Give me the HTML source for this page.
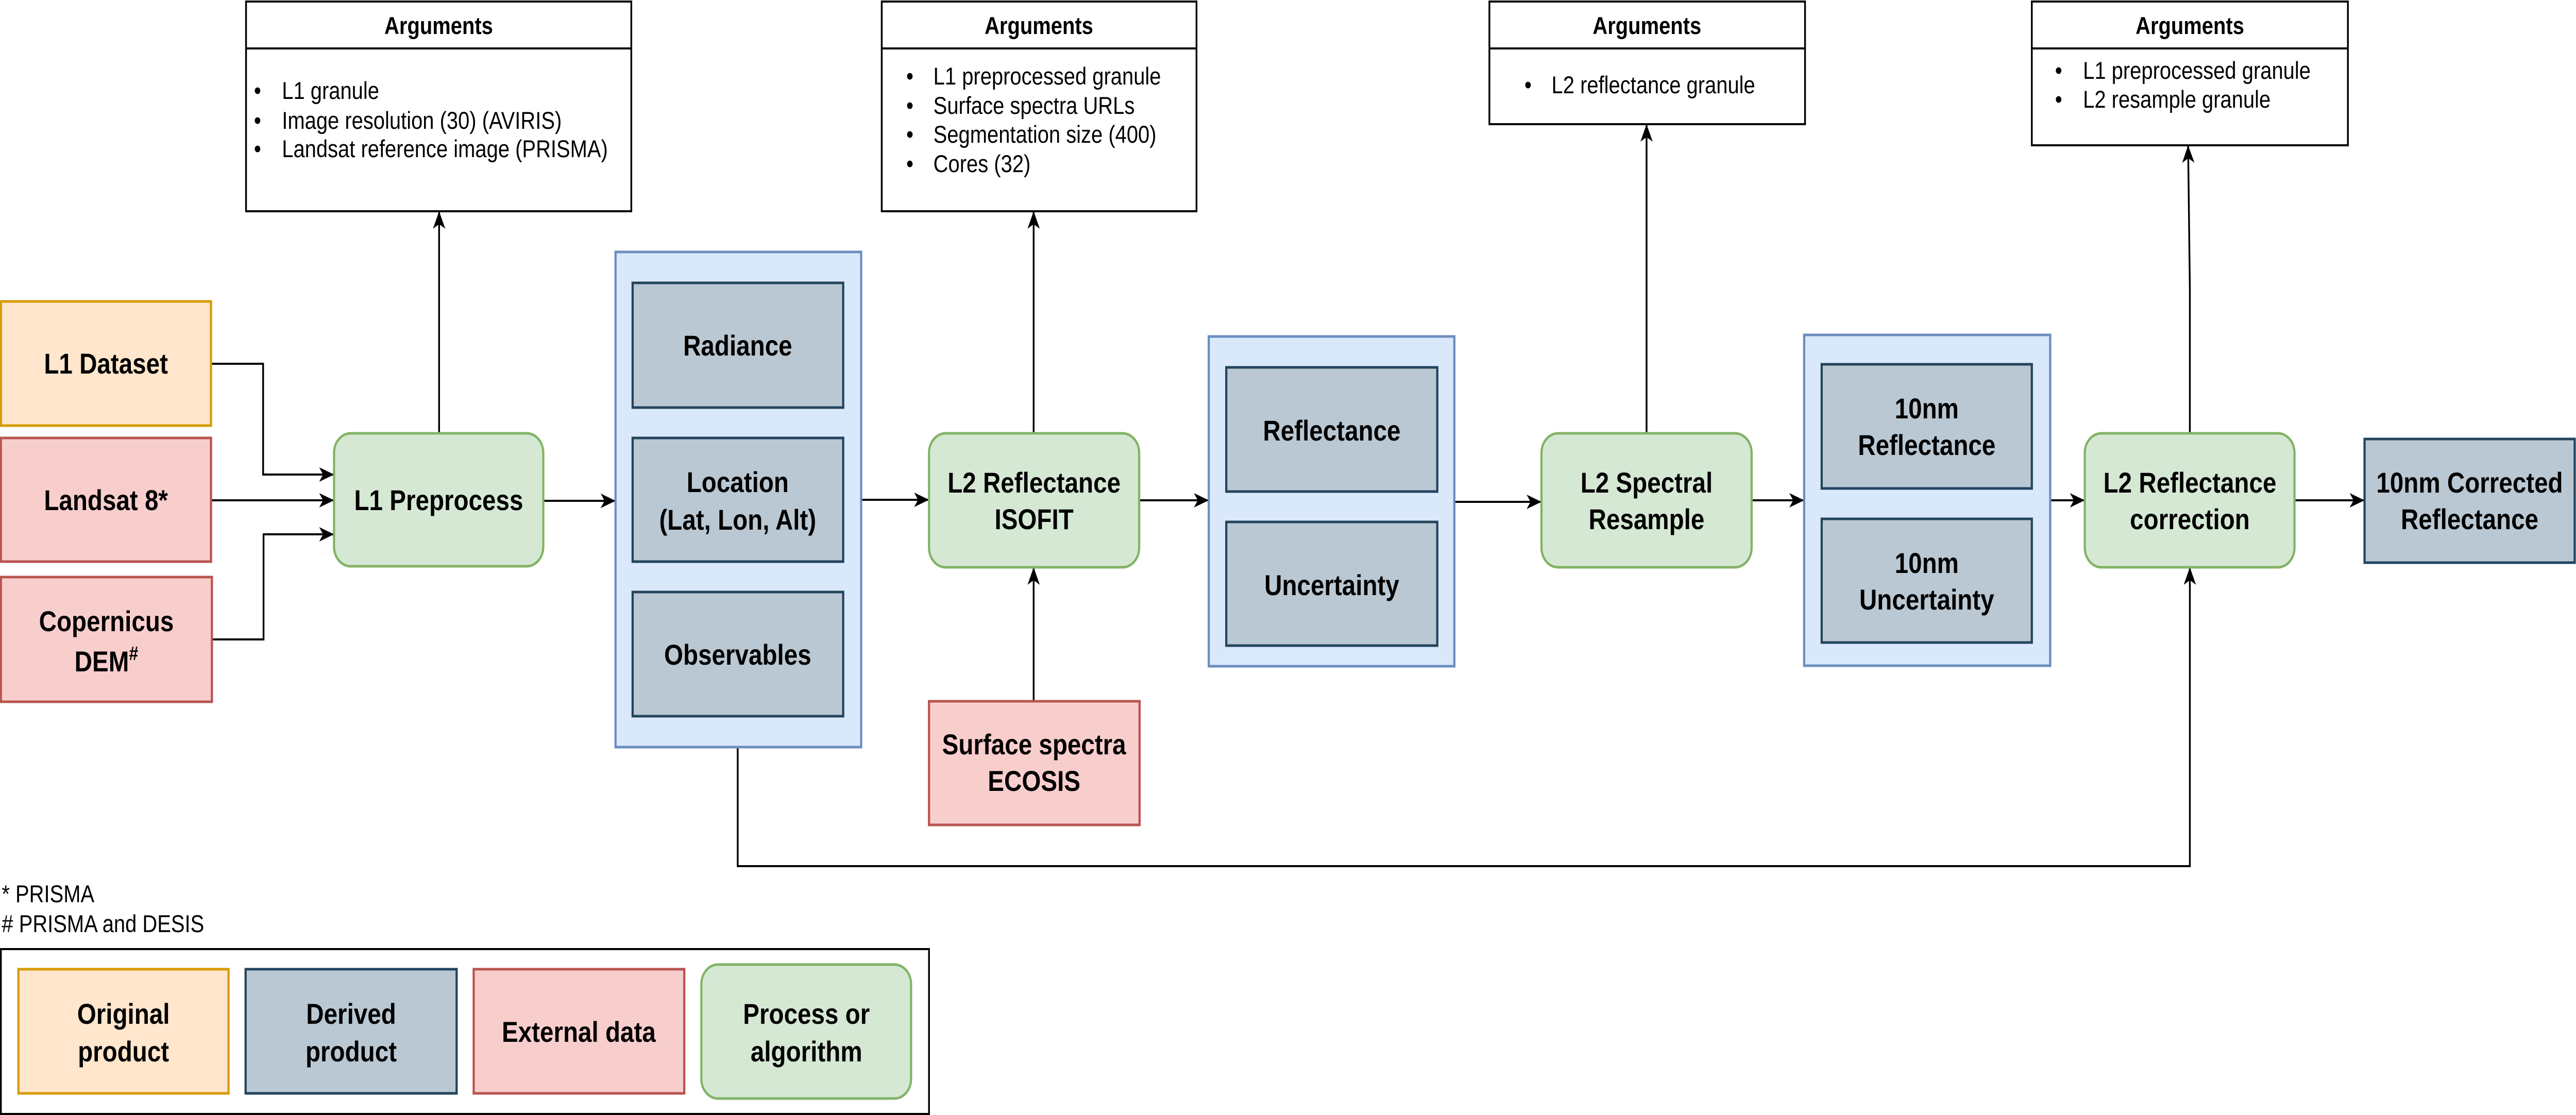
<!DOCTYPE html>
<html><head><meta charset="utf-8"><style>
html,body{margin:0;padding:0;background:#fff;overflow:hidden;width:100%;height:100%}
svg{display:block;width:100vw;height:100vh}
text{font-family:"Liberation Sans",Arial,sans-serif}
.b{font-weight:bold;font-size:56px}
.h{font-weight:bold;font-size:47px}
.n{font-size:47px}
</style></head><body>
<svg viewBox="0 0 5884 2164" preserveAspectRatio="none" xmlns="http://www.w3.org/2000/svg">
<defs>
<marker id="a" markerWidth="34" markerHeight="28" refX="32" refY="14" orient="auto" markerUnits="userSpaceOnUse">
<path d="M0,0 L34,14 L0,28 L9,14 Z" fill="#000"/>
</marker>
</defs>
<g fill="none" stroke="#000" stroke-width="4">
<rect x="562" y="3" width="880" height="407" fill="#fff"/><line x1="562" y1="94" x2="1442" y2="94"/>
<rect x="2014" y="3" width="719" height="407" fill="#fff"/><line x1="2014" y1="94" x2="2733" y2="94"/>
<rect x="3402" y="3" width="721" height="238" fill="#fff"/><line x1="3402" y1="94" x2="4123" y2="94"/>
<rect x="4641" y="3" width="722" height="279" fill="#fff"/><line x1="4641" y1="94" x2="5363" y2="94"/>
<path d="M482,706 H601 V921 H761" marker-end="url(#a)"/>
<path d="M482,971 H761" marker-end="url(#a)"/>
<path d="M484,1241 H602 V1037 H761" marker-end="url(#a)"/>
<path d="M1003,841 V412" marker-end="url(#a)"/>
<path d="M1241,972 H1404" marker-end="url(#a)"/>
<path d="M1967,970 H2120" marker-end="url(#a)"/>
<path d="M2361,841 V412" marker-end="url(#a)"/>
<path d="M2361,1361 V1103" marker-end="url(#a)"/>
<path d="M2602,971 H2759" marker-end="url(#a)"/>
<path d="M3322,974 H3519" marker-end="url(#a)"/>
<path d="M3761,841 V243" marker-end="url(#a)"/>
<path d="M4001,971 H4119" marker-end="url(#a)"/>
<path d="M4683,971 H4760" marker-end="url(#a)"/>
<path d="M5002,841 V560 L4998,284" marker-end="url(#a)"/>
<path d="M5241,971 H5399" marker-end="url(#a)"/>
<path d="M1685,1450 V1681 H5002 V1103" marker-end="url(#a)"/>
</g>
<g text-anchor="middle"><text class="h" x="1002" y="66">Arguments</text><text class="h" x="2373" y="66">Arguments</text><text class="h" x="3762" y="66">Arguments</text><text class="h" x="5002" y="66">Arguments</text></g>
<g>
<text class="n" x="580" y="192">•</text><text class="n" x="644" y="192">L1 granule</text>
<text class="n" x="580" y="250">•</text><text class="n" x="644" y="250">Image resolution (30) (AVIRIS)</text>
<text class="n" x="580" y="305">•</text><text class="n" x="644" y="305">Landsat reference image (PRISMA)</text>
<text class="n" x="2070" y="164">•</text><text class="n" x="2132" y="164">L1 preprocessed granule</text>
<text class="n" x="2070" y="221">•</text><text class="n" x="2132" y="221">Surface spectra URLs</text>
<text class="n" x="2070" y="277">•</text><text class="n" x="2132" y="277">Segmentation size (400)</text>
<text class="n" x="2070" y="334">•</text><text class="n" x="2132" y="334">Cores (32)</text>
<text class="n" x="3482" y="181">•</text><text class="n" x="3544" y="181">L2 reflectance granule</text>
<text class="n" x="4694" y="153">•</text><text class="n" x="4758" y="153">L1 preprocessed granule</text>
<text class="n" x="4694" y="209">•</text><text class="n" x="4758" y="209">L2 resample granule</text>
</g>
<g stroke-width="5">
<rect x="2" y="585" width="480" height="241" fill="#ffe6cc" stroke="#d79b00"/>
<rect x="2" y="850" width="480" height="240" fill="#f8cecc" stroke="#b85450"/>
<rect x="2" y="1120" width="482" height="242" fill="#f8cecc" stroke="#b85450"/>
<rect x="763" y="841" width="478" height="258" rx="38" fill="#d5e8d4" stroke="#82b366"/>
<rect x="1406" y="489" width="561" height="961" fill="#dae8fc" stroke="#6c8ebf"/>
<rect x="1445" y="549" width="481" height="242" fill="#bac8d3" stroke="#23445d"/>
<rect x="1445" y="850" width="481" height="240" fill="#bac8d3" stroke="#23445d"/>
<rect x="1445" y="1149" width="481" height="241" fill="#bac8d3" stroke="#23445d"/>
<rect x="2122" y="841" width="480" height="260" rx="38" fill="#d5e8d4" stroke="#82b366"/>
<rect x="2122" y="1361" width="481" height="240" fill="#f8cecc" stroke="#b85450"/>
<rect x="2761" y="653" width="561" height="640" fill="#dae8fc" stroke="#6c8ebf"/>
<rect x="2801" y="713" width="482" height="241" fill="#bac8d3" stroke="#23445d"/>
<rect x="2801" y="1013" width="482" height="240" fill="#bac8d3" stroke="#23445d"/>
<rect x="3521" y="841" width="480" height="260" rx="38" fill="#d5e8d4" stroke="#82b366"/>
<rect x="4121" y="650" width="562" height="642" fill="#dae8fc" stroke="#6c8ebf"/>
<rect x="4161" y="707" width="480" height="241" fill="#bac8d3" stroke="#23445d"/>
<rect x="4161" y="1007" width="480" height="240" fill="#bac8d3" stroke="#23445d"/>
<rect x="4762" y="841" width="479" height="260" rx="38" fill="#d5e8d4" stroke="#82b366"/>
<rect x="5401" y="852" width="480" height="240" fill="#bac8d3" stroke="#23445d"/>
</g>
<g text-anchor="middle">
<text class="b" x="242" y="725">L1 Dataset</text>
<text class="b" x="242" y="990">Landsat 8*</text>
<text class="b" x="243" y="1225">Copernicus</text>
<text class="b" x="243" y="1303">DEM<tspan font-size="38" dy="-22">#</tspan></text>
<text class="b" x="1002" y="990">L1 Preprocess</text>
<text class="b" x="1685" y="690">Radiance</text>
<text class="b" x="1685" y="955">Location</text>
<text class="b" x="1685" y="1028">(Lat, Lon, Alt)</text>
<text class="b" x="1685" y="1290">Observables</text>
<text class="b" x="2362" y="956">L2 Reflectance</text>
<text class="b" x="2362" y="1027">ISOFIT</text>
<text class="b" x="2362" y="1464">Surface spectra</text>
<text class="b" x="2362" y="1535">ECOSIS</text>
<text class="b" x="3042" y="855">Reflectance</text>
<text class="b" x="3042" y="1155">Uncertainty</text>
<text class="b" x="3761" y="956">L2 Spectral</text>
<text class="b" x="3761" y="1027">Resample</text>
<text class="b" x="4401" y="812">10nm</text>
<text class="b" x="4401" y="883">Reflectance</text>
<text class="b" x="4401" y="1112">10nm</text>
<text class="b" x="4401" y="1183">Uncertainty</text>
<text class="b" x="5002" y="956">L2 Reflectance</text>
<text class="b" x="5002" y="1027">correction</text>
<text class="b" x="5641" y="956">10nm Corrected</text>
<text class="b" x="5641" y="1027">Reflectance</text>
</g>
<text class="n" x="4" y="1751">* PRISMA</text>
<text class="n" x="4" y="1809"># PRISMA and DESIS</text>
<rect x="2" y="1842" width="2120" height="320" fill="#fff" stroke="#000" stroke-width="4"/>
<g stroke-width="5">
<rect x="42" y="1881" width="480" height="241" fill="#ffe6cc" stroke="#d79b00"/>
<rect x="561" y="1881" width="482" height="241" fill="#bac8d3" stroke="#23445d"/>
<rect x="1082" y="1881" width="481" height="241" fill="#f8cecc" stroke="#b85450"/>
<rect x="1602" y="1872" width="479" height="260" rx="38" fill="#d5e8d4" stroke="#82b366"/>
</g>
<g text-anchor="middle">
<text class="b" x="282" y="1987">Original</text><text class="b" x="282" y="2060">product</text>
<text class="b" x="802" y="1987">Derived</text><text class="b" x="802" y="2060">product</text>
<text class="b" x="1322" y="2022">External data</text>
<text class="b" x="1842" y="1987">Process or</text><text class="b" x="1842" y="2060">algorithm</text>
</g>
</svg>
</body></html>
